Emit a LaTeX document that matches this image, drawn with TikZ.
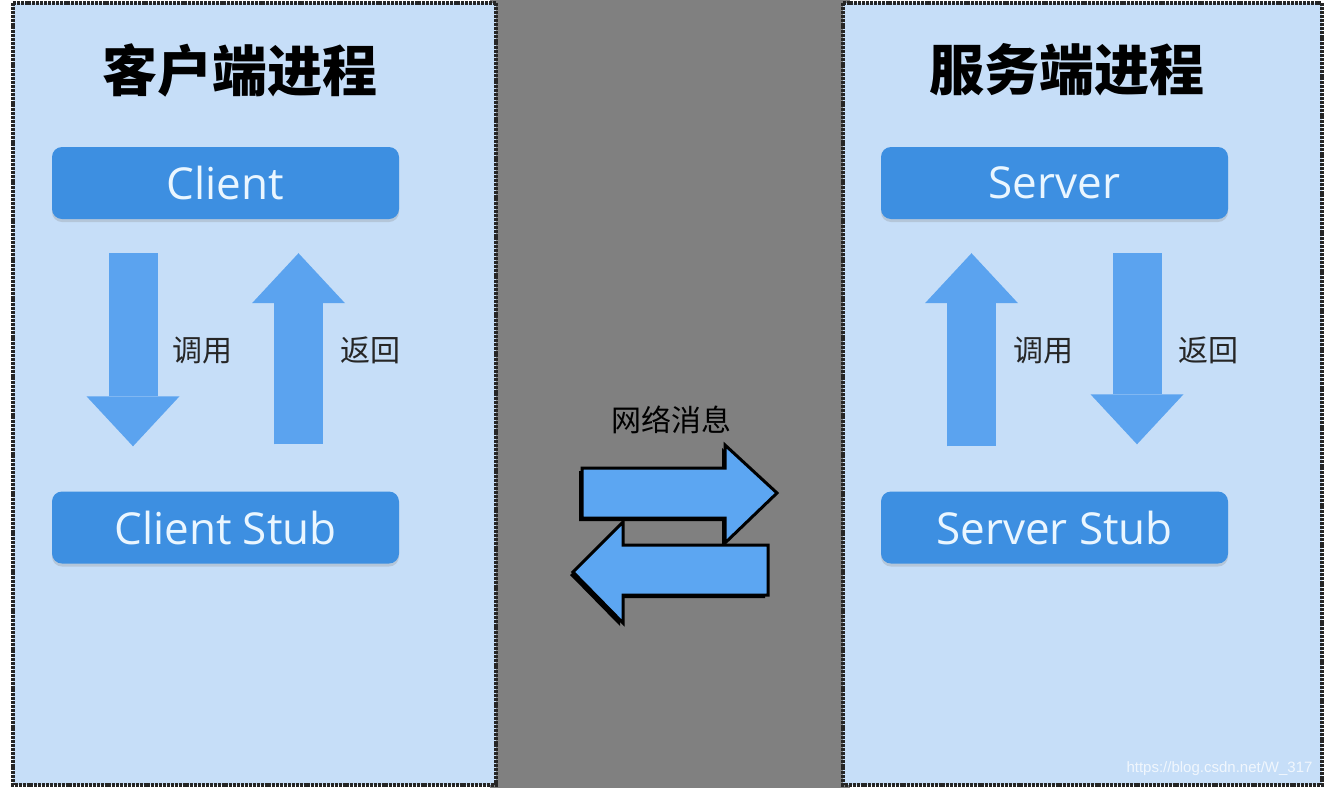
\documentclass[tikz,border=0pt]{standalone}
\usepackage{fontspec}
\setmainfont{Open Sans}
\newfontfamily\cjk[BoldFont={Noto Sans CJK SC Black}]{Noto Sans CJK SC}
\newfontfamily\markfont{Liberation Sans}
\usetikzlibrary{arrows.meta,shadows}

\definecolor{panelblue}{HTML}{C6DEF8}
\definecolor{boxblue}{HTML}{3D8FE1}
\definecolor{arrowblue}{HTML}{5BA3EF}
\definecolor{netblue}{HTML}{5CA6F2}
\definecolor{midgray}{HTML}{808080}
\definecolor{boxtext}{HTML}{EAF6FF}

\tikzset{
  panel/.style={draw=black!85, fill=panelblue, line width=3.2pt, dash pattern=on 3pt off 0.9pt},
  procbox/.style={rounded corners=10pt, fill=boxblue, minimum width=347pt, minimum height=72pt,
    text=boxtext, font=\fontsize{44}{52}\selectfont,
    drop shadow={shadow xshift=0pt, shadow yshift=-3pt, opacity=0.25}},
  proctitle/.style={font=\cjk\bfseries\fontsize{55}{66}\selectfont},
  steplabel/.style={font=\cjk\fontsize{30}{36}\selectfont, text=black!85},
  blockarrow/.style={draw=arrowblue, line width=49pt,
    -{Triangle[width=93pt,length=50pt,line width=0pt]}},
  netarrow/.style={fill=netblue, draw=black, line width=3pt, line join=miter},
}

\begin{document}
\begin{tikzpicture}[x=1pt,y=-1pt]
  \useasboundingbox (0,0) rectangle (1326,788);
  \fill[white] (0,0) rectangle (1326,788);
  \fill[midgray] (490,0) rectangle (850,788);

  % process panels
  \draw[panel] (13,3) rectangle (496,785);
  \draw[panel] (843,3) rectangle (1322,785);

  \node[proctitle] (ctitle) at (240,70) {客户端进程};
  \node[proctitle] (stitle) at (1067,70) {服务端进程};

  \node[procbox] (client) at (225.5,183) {Client};
  \node[procbox] (cstub) at (225.5,527.5) {Client Stub};
  \node[procbox] (server) at (1054.5,183) {Server};
  \node[procbox] (sstub) at (1054.5,527.5) {Server Stub};

  % call / return
  \draw[blockarrow] ([xshift=-92.5pt,yshift=-34pt]client.south) -- ([xshift=-92.5pt,yshift=45pt]cstub.north);
  \draw[blockarrow] ([xshift=73pt,yshift=47pt]cstub.north) -- ([xshift=73pt,yshift=-34pt]client.south);
  \draw[blockarrow] ([xshift=-83pt,yshift=45pt]sstub.north) -- ([xshift=-83pt,yshift=-34pt]server.south);
  \draw[blockarrow] ([xshift=82.5pt,yshift=-34pt]server.south) -- ([xshift=82.5pt,yshift=47pt]sstub.north);

  \node[steplabel] (ccall) at (202,350) {调用};
  \node[steplabel] (cret) at (370,350) {返回};
  \node[steplabel] (scall) at (1043,350) {调用};
  \node[steplabel] (sret) at (1208,350) {返回};

  % network messages
  \node[steplabel, text=black] (netlabel) at (671,420) {网络消息};
  \begin{scope}[xshift=-3pt,yshift=-3pt]
    \fill[black] (582,468) -- (725,468) -- (725,445) -- (777,493) -- (725,543) -- (725,518) -- (582,518) -- cycle;
    \fill[black] (768,545) -- (623,545) -- (623,522) -- (573,572) -- (623,623) -- (623,595) -- (768,595) -- cycle;
  \end{scope}
  \draw[netarrow] (582,468) -- (725,468) -- (725,445) -- (777,493) -- (725,543) -- (725,518) -- (582,518) -- cycle;
  \draw[netarrow] (768,545) -- (623,545) -- (623,522) -- (573,572) -- (623,623) -- (623,595) -- (768,595) -- cycle;

  \node[font=\markfont\fontsize{15}{18}\selectfont, text=white, opacity=0.75, anchor=east] (mark) at (1316,769) {https://blog.csdn.net/W\_317};
\end{tikzpicture}
\end{document}
